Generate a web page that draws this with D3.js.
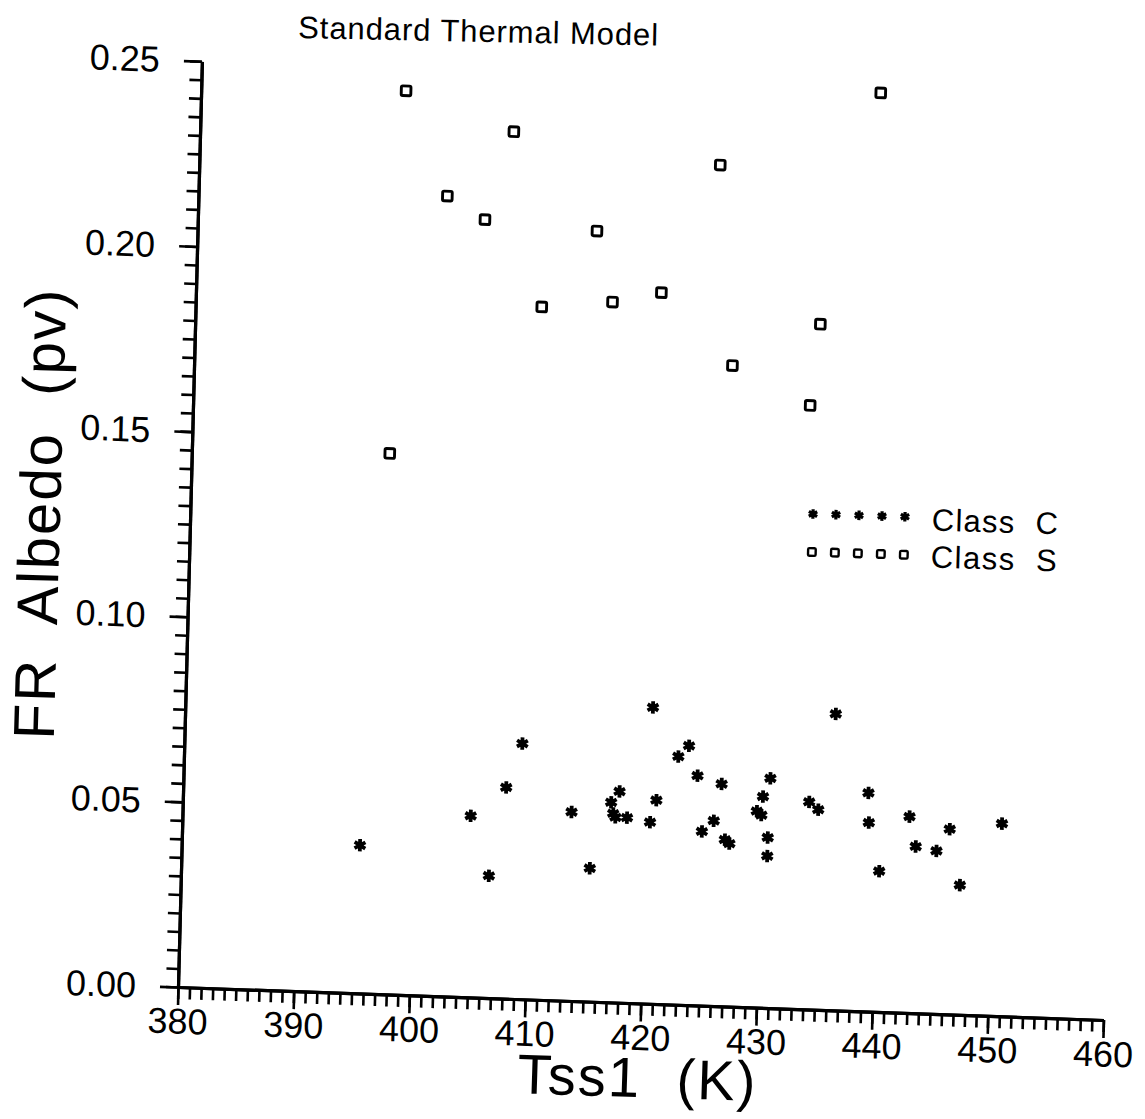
<!DOCTYPE html>
<html>
<head>
<meta charset="UTF-8">
<title>Standard Thermal Model</title>
<script src="https://cdn.jsdelivr.net/npm/d3@7/dist/d3.min.js"></script>
<style>
  body { margin: 0; background: #fff; }
  svg text { font-family: "Liberation Sans", Arial, sans-serif; fill: #000; white-space: pre; }
</style>
</head>
<body>
<div id="chart"></div>
<script>
// Class C asteroids (asterisks): Tss1 (K) and FR albedo
var classC_T  = [395.4, 406.6, 404.9, 407.9, 409.2, 413.6, 415.3, 420.4, 417.0, 417.7,
                 417.2, 417.4, 418.4, 420.9, 420.4, 422.7, 423.6, 424.4, 426.5, 424.9,
                 425.9, 426.9, 427.3, 430.7, 430.1, 429.6, 430.0, 430.6, 430.6, 436.2,
                 434.1, 434.9, 439.2, 439.3, 442.8, 446.3, 443.4, 445.2, 450.8, 440.3, 447.3];
var classC_pv = [0.040, 0.033, 0.049, 0.057, 0.069, 0.051, 0.036, 0.080, 0.054, 0.057,
                 0.051, 0.050, 0.050, 0.055, 0.049, 0.067, 0.070, 0.062, 0.060, 0.047,
                 0.050, 0.045, 0.044, 0.062, 0.057, 0.053, 0.052, 0.046, 0.041, 0.080,
                 0.056, 0.054, 0.059, 0.051, 0.053, 0.050, 0.045, 0.044, 0.052, 0.038, 0.035];
// Class S asteroids (squares)
var classS_T  = [397.7, 438.7, 407.1, 425.0, 401.5, 404.8, 414.5, 420.2, 416.0, 409.9,
                 434.0, 426.5, 433.3, 397.1];
var classS_pv = [0.244, 0.248, 0.234, 0.227, 0.216, 0.210, 0.208, 0.192, 0.189, 0.187,
                 0.185, 0.173, 0.163, 0.146];

var xTicks = [380, 390, 400, 410, 420, 430, 440, 450, 460];
var yTicks = [0.00, 0.05, 0.10, 0.15, 0.20, 0.25];
var legendLabels = ["Class  C", "Class  S"];

var width = 1145, height = 1119;
var plotW = 926, plotH = 926;

var svg = d3.select("#chart").append("svg")
  .attr("width", width)
  .attr("height", height);

// the scanned page is a bit skewed, the plot frame follows it
var g = svg.append("g")
  .attr("transform", "matrix(0.99937,0.0356,-0.02583,0.99967,178,987)");

var x = d3.scaleLinear().domain([380, 460]).range([0, plotW]);
var y = d3.scaleLinear().domain([0, 0.25]).range([0, -plotH]);

// minor ticks
g.append("g")
  .call(d3.axisBottom(x).tickValues(d3.range(380, 461, 1)).tickSize(12).tickSizeOuter(0).tickFormat(""));
g.append("g")
  .call(d3.axisLeft(y).tickValues(d3.range(0, 0.2501, 0.005)).tickSize(12).tickSizeOuter(0).tickFormat(""));

// major ticks + labels
g.append("g")
  .call(d3.axisBottom(x).tickValues(xTicks).tickSize(18).tickSizeOuter(0).tickPadding(3).tickFormat(d3.format("d")));
g.append("g")
  .call(d3.axisLeft(y).tickValues(yTicks).tickSize(18).tickSizeOuter(0).tickPadding(24).tickFormat(d3.format(".2f")));

g.selectAll(".domain").attr("stroke", "#000").attr("stroke-width", 3.2);
g.selectAll(".tick line").attr("stroke", "#000").attr("stroke-width", 2.6);
g.selectAll(".tick text").attr("font-size", "36px").attr("font-family", "Liberation Sans, Arial, sans-serif");

// symbols
var star = function(r) {
  var a = r * Math.cos(Math.PI / 6), b = r / 2;
  return "M0," + (-r) + "V" + r +
         "M" + (-a) + "," + (-b) + "L" + a + "," + b +
         "M" + (-a) + "," + b + "L" + a + "," + (-b);
};

g.selectAll("path.classC")
  .data(classC_T)
  .enter().append("path")
  .attr("class", "classC")
  .attr("d", star(6.2))
  .attr("transform", function(d, i){ return "translate(" + x(d) + "," + y(classC_pv[i]) + ")"; })
  .attr("stroke", "#000")
  .attr("stroke-width", 3.8)
  .attr("fill", "none");

g.selectAll("rect.classS")
  .data(classS_T)
  .enter().append("rect")
  .attr("class", "classS")
  .attr("x", function(d){ return x(d) - 4.8; })
  .attr("y", function(d, i){ return y(classS_pv[i]) - 4.8; })
  .attr("width", 9.6)
  .attr("height", 9.6)
  .attr("rx", 1.5)
  .attr("fill", "none")
  .attr("stroke", "#000")
  .attr("stroke-width", 2.9);

// legend
var legend = svg.append("g").attr("transform", "translate(813,514) rotate(1.7)");
legend.selectAll("path")
  .data(d3.range(5))
  .enter().append("path")
  .attr("d", star(4.8))
  .attr("transform", function(d){ return "translate(" + d * 23 + ",0)"; })
  .attr("stroke", "#000").attr("stroke-width", 3.2).attr("fill", "none");
legend.selectAll("rect")
  .data(d3.range(5))
  .enter().append("rect")
  .attr("x", function(d){ return d * 23 - 3.8; })
  .attr("y", 38 - 3.8)
  .attr("width", 7.6).attr("height", 7.6).attr("rx", 1.2)
  .attr("fill", "none").attr("stroke", "#000").attr("stroke-width", 2.4);
legend.selectAll("text")
  .data(legendLabels)
  .enter().append("text")
  .attr("x", 119)
  .attr("y", function(d, i){ return 13 + i * 37; })
  .attr("font-size", "31px")
  .attr("textLength", 126)
  .attr("lengthAdjust", "spacing")
  .text(function(d){ return d; });

// title
svg.append("text")
  .attr("x", 298).attr("y", 38)
  .attr("transform", "rotate(1.2,298,38)")
  .attr("font-size", "31px")
  .attr("textLength", 360)
  .attr("lengthAdjust", "spacing")
  .text("Standard Thermal Model");

// axis titles
svg.append("text")
  .attr("transform", "translate(60,515) rotate(-88.4)")
  .attr("text-anchor", "middle")
  .attr("font-size", "58px")
  .attr("textLength", 450)
  .attr("lengthAdjust", "spacing")
  .text("FR  Albedo  (pv)");

svg.append("text")
  .attr("transform", "translate(636,1097) rotate(1.8)")
  .attr("text-anchor", "middle")
  .attr("font-size", "56px")
  .attr("textLength", 238)
  .attr("lengthAdjust", "spacing")
  .text("Tss1  (K)");
</script>
</body>
</html>
